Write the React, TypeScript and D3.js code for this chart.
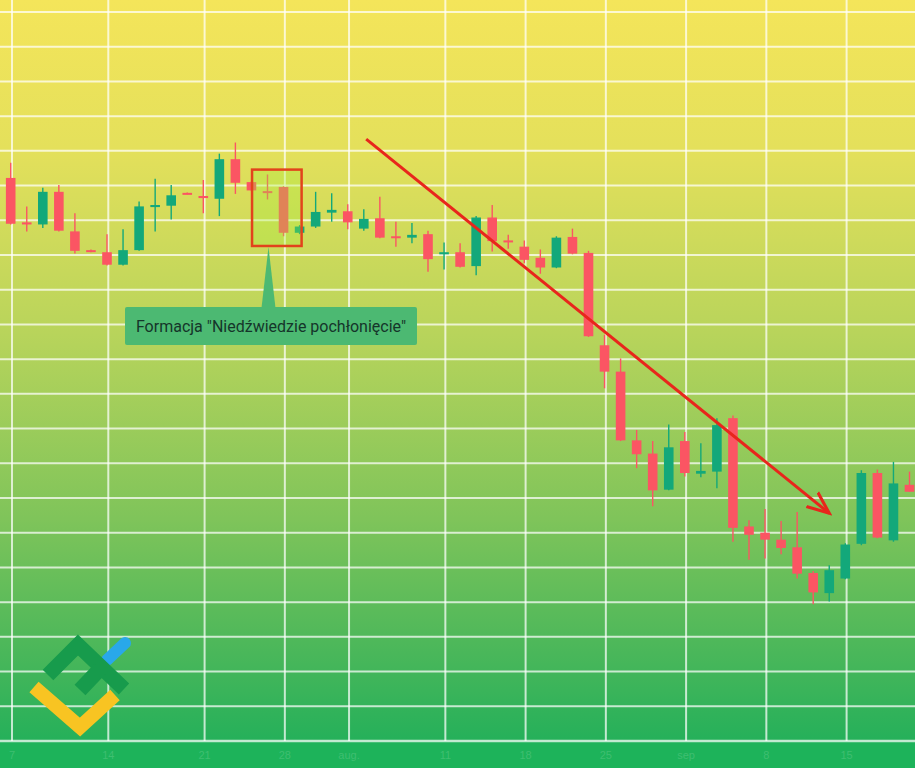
import React from "react";
import * as d3 from "d3";

// ---- data ----
const opens = [81.1, 74.7, 74.4, 79.1, 73.4, 70.7, 70.4, 68.6, 70.7, 76.9, 77.1, 78.95, 78.5, 78.1, 83.8, 80.5, 79.2, 79.8, 73.2, 74.1, 76.1, 76.3, 73.8, 75.3, 72.7, 72.5, 73.0, 70.1, 70.4, 68.4, 75.4, 72.1, 71.2, 69.6, 68.2, 72.6, 70.3, 57.0, 53.2, 43.3, 41.4, 36.2, 43.2, 38.5, 38.8, 46.5, 30.9, 30.0, 29.0, 27.9, 24.2, 21.3, 23.4, 28.4, 38.6, 28.9, 36.9];
const highs = [83.3, 77.0, 79.7, 80.1, 76.0, 70.8, 73.0, 73.7, 77.7, 81.0, 80.1, 79.0, 80.8, 84.6, 86.2, 80.6, 81.6, 79.9, 74.3, 79.1, 78.9, 77.3, 76.6, 78.4, 74.8, 74.6, 73.5, 71.8, 71.7, 75.6, 77.2, 72.9, 72.1, 70.8, 72.7, 73.8, 70.6, 58.5, 55.1, 44.8, 43.2, 45.6, 44.5, 42.9, 46.5, 46.9, 31.8, 33.4, 31.7, 33.0, 24.5, 25.3, 28.5, 39.0, 39.1, 40.2, 38.8];
const lows = [74.4, 73.4, 73.9, 73.4, 70.2, 70.4, 68.5, 68.5, 70.6, 73.4, 75.1, 78.75, 76.0, 75.6, 78.8, 79.2, 78.0, 72.7, 73.0, 73.9, 74.8, 73.7, 73.5, 72.4, 71.2, 71.7, 67.6, 67.9, 68.2, 67.1, 70.5, 70.9, 68.8, 67.3, 68.1, 70.1, 58.2, 50.8, 43.2, 39.3, 33.8, 36.1, 38.1, 38.0, 36.4, 28.7, 26.1, 26.3, 26.9, 23.4, 19.7, 20.1, 23.3, 28.2, 29.2, 28.7, 35.9];
const closes = [74.5, 74.4, 79.1, 73.5, 70.6, 70.6, 68.6, 70.7, 77.0, 77.2, 78.6, 78.8, 78.2, 83.8, 80.4, 79.3, 79.0, 73.2, 74.1, 76.2, 76.5, 74.7, 75.2, 72.5, 72.5, 72.9, 69.4, 70.4, 68.3, 75.4, 72.0, 71.9, 69.3, 68.2, 72.5, 70.2, 58.3, 53.2, 43.3, 41.3, 36.1, 42.3, 38.6, 38.9, 45.5, 30.7, 29.7, 29.0, 27.8, 24.1, 21.4, 24.6, 28.3, 38.6, 29.3, 37.1, 35.9];

const tickIndex = [0, 6, 12, 17, 21, 27, 32, 37, 42, 47, 52];
const tickLabels = ["7", "14", "21", "28", "aug.", "11", "18", "25", "sep", "8", "15"];
const priceGrid = d3.range(0, 106, 5);

// pattern box (candle indices / prices) and trend arrow (index / price)
const patternFrom = [15, 18];
const patternPrice = [71.3, 82.3];
const arrowFrom = [22.15, 86.7];
const arrowTo = [51.0, 32.8];
const annotation = 'Formacja "Niedźwiedzie pochłonięcie"';

const W = 915;
const H = 768;
const AXIS_Y = 741;

export default function App() {
  const x = d3.scaleLinear().domain([0, 56]).range([10.7, 909.5]);
  const y = d3.scaleLinear().domain([0, 105]).range([AXIS_Y, 12]);
  const bodyW = 9.6;
  const red = "#fb5563";
  const green = "#13a87a";

  const candles = opens.map((o, i) => ({ o, h: highs[i], l: lows[i], c: closes[i], i }));

  const line = d3.line<number[]>().x((d) => x(d[0])).y((d) => y(d[1]));

  const boxX0 = x(patternFrom[0]) + 0.6;
  const boxX1 = x(patternFrom[1]) + 2;
  const boxY0 = y(patternPrice[1]);
  const boxY1 = y(patternPrice[0]);
  const apexX = x(16) + 1;

  return (
    <svg width={W} height={H} style={{ position: "fixed", left: 0, top: 0 }} xmlns="http://www.w3.org/2000/svg">
      <defs>
        <linearGradient id="bg" x1="0" y1="0" x2="0" y2={AXIS_Y} gradientUnits="userSpaceOnUse">
          <stop offset="0" stopColor="#f4e55a" />
          <stop offset="0.2" stopColor="#e4e05b" />
          <stop offset="0.45" stopColor="#b8d45b" />
          <stop offset="0.7" stopColor="#7fc45a" />
          <stop offset="0.88" stopColor="#4ab75a" />
          <stop offset="1" stopColor="#25b05a" />
        </linearGradient>
        <marker id="ah" viewBox="0 0 20 20" refX="17" refY="10" markerWidth="26" markerHeight="26" orient="auto" markerUnits="userSpaceOnUse">
          <path d="M0,3 L17,10 L0,17" fill="none" stroke="#e8261c" strokeWidth="2.4" strokeLinejoin="miter" />
        </marker>
      </defs>
      <rect x={0} y={0} width={W} height={AXIS_Y} fill="url(#bg)" />
      <rect x={0} y={AXIS_Y} width={W} height={H - AXIS_Y} fill="#1db35a" />

      {/* grid */}
      {priceGrid.map((p) => (
        <line key={"h" + p} x1={0} x2={W} y1={y(p)} y2={y(p)} stroke="#ffffff" strokeOpacity={0.72} strokeWidth={p === 0 ? 2.5 : 2} />
      ))}
      {tickIndex.map((t) => (
        <line key={"v" + t} x1={x(t) + 1.3} x2={x(t) + 1.3} y1={0} y2={AXIS_Y} stroke="#ffffff" strokeOpacity={0.72} strokeWidth={2} />
      ))}
      {tickIndex.map((t, k) => (
        <text key={"t" + t} x={x(t) + 1.3} y={759} textAnchor="middle" fontSize={11} fontFamily="Liberation Sans, Arial, sans-serif" fill="#7fd69b" fillOpacity={0.35}>
          {tickLabels[k]}
        </text>
      ))}

      {/* candles */}
      {candles.map((d) => {
        const col = d.c >= d.o ? green : red;
        const top = y(Math.max(d.o, d.c));
        const bot = y(Math.min(d.o, d.c));
        return (
          <g key={d.i}>
            <line x1={x(d.i)} x2={x(d.i)} y1={y(d.h)} y2={y(d.l)} stroke={col} strokeWidth={1.4} />
            <rect x={x(d.i) - bodyW / 2} y={top} width={bodyW} height={Math.max(bot - top, 2)} fill={col} />
          </g>
        );
      })}

      {/* pattern highlight */}
      <rect x={boxX0} y={boxY0} width={boxX1 - boxX0} height={boxY1 - boxY0} fill="#a2f03a" fillOpacity={0.3} stroke="#e2431c" strokeWidth={2.5} />
      <path d={`M${apexX},${boxY1 + 1} L${apexX - 7},308 L${apexX + 7},308 Z`} fill="#4cb972" />
      <rect x={125} y={307} width={292} height={38} rx={2} fill="#4cb972" />
      <text x={271} y={332} textAnchor="middle" fontSize={16} fontFamily="Roboto, Arial, sans-serif" fill="#15352a">
        {annotation}
      </text>

      {/* trend arrow */}
      <path d={line([arrowFrom, arrowTo]) || ""} stroke="#e8261c" strokeWidth={3} fill="none" markerEnd="url(#ah)" />

      {/* logo */}
      <g fill="none" strokeLinejoin="miter">
        <line x1={107} y1={660} x2={125} y2={643} stroke="#29a8ea" strokeWidth={12} strokeLinecap="round" />
        <polyline points="48,675 78,645 124,689" stroke="#179b4c" strokeWidth={15} />
        <line x1={80} y1={690} x2={100} y2={669} stroke="#179b4c" strokeWidth={15} />
        <polyline points="34,687 80,727 115,695" stroke="#f8c422" strokeWidth={14} />
      </g>
    </svg>
  );
}
